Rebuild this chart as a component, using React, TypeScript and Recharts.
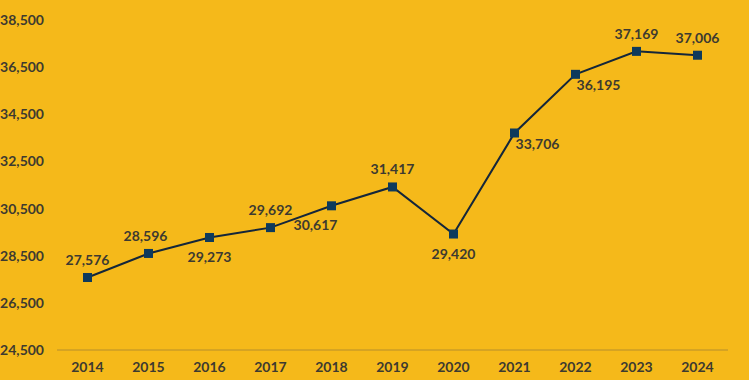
import { LabelList, Line, LineChart, XAxis, YAxis } from "recharts";

// ---------------------------------------------------------------------------
// Data
// ---------------------------------------------------------------------------

const YEARS = ["2014", "2015", "2016", "2017", "2018", "2019", "2020", "2021", "2022", "2023", "2024"];
const VALUES = [27576, 28596, 29273, 29692, 30617, 31417, 29420, 33706, 36195, 37169, 37006];
const Y_TICKS = [24500, 26500, 28500, 30500, 32500, 34500, 36500, 38500];

// where each data label sits relative to its marker
const LABEL_SIDE = ["above", "above", "below", "above", "below", "above", "below", "right", "right", "above", "above"];

// ---------------------------------------------------------------------------
// Styling
// ---------------------------------------------------------------------------

const BG = "#F5B91A";
const TEXT = "#3D3A30";
const LINE = "#14263A";
const MARKER = "#0E3A5C";
const AXIS = "#B58E2C";
const FONT = "Lato, 'Noto Sans', sans-serif";

const data = YEARS.map((year, i) => ({ year, value: VALUES[i] }));

const fmt = (v: number) => v.toLocaleString("en-US");

function SquareDot(props: any) {
  const { cx, cy } = props;
  if (cx == null || cy == null) return null;
  return <rect x={cx - 4.5} y={cy - 4.5} width={9} height={9} fill={MARKER} />;
}

function PointLabel(props: any) {
  const { x, y, value, index } = props;
  const side = LABEL_SIDE[index];
  let dx = 0;
  let dy = -18;
  if (side === "below") {
    dy = 19;
    if (index === 4) dx = -16;
  } else if (side === "right") {
    dx = 23;
    dy = 10;
  }
  if (index === 1) dx = -3;
  return (
    <text
      x={x + dx}
      y={y + dy}
      textAnchor="middle"
      dominantBaseline="central"
      fill={TEXT}
      fontSize={14}
      fontWeight={700}
      fontFamily={FONT}
    >
      {fmt(value)}
    </text>
  );
}

export default function App() {
  return (
    <div style={{ position: "absolute", left: 0, top: 0, width: 749, height: 380, background: BG }}>
      <LineChart
        width={749}
        height={380}
        data={data}
        margin={{ top: 20, right: 21, bottom: 0, left: 0 }}
      >
        <XAxis
          dataKey="year"
          height={30}
          padding={{ left: 30.5, right: 30.5 }}
          tickLine={false}
          tickSize={0}
          tickMargin={12}
          axisLine={{ stroke: AXIS, strokeWidth: 1 }}
          tick={{ fill: TEXT, fontSize: 14, fontWeight: 700, fontFamily: FONT }}
          interval={0}
        />
        <YAxis
          width={57}
          domain={[24500, 38500]}
          ticks={Y_TICKS}
          tickFormatter={fmt}
          axisLine={false}
          tickLine={false}
          tickSize={0}
          tickMargin={13}
          tick={{ fill: TEXT, fontSize: 14, fontWeight: 700, fontFamily: FONT }}
        />
        <Line
          dataKey="value"
          stroke={LINE}
          strokeWidth={2}
          dot={<SquareDot />}
          activeDot={false}
          isAnimationActive={false}
        >
          <LabelList dataKey="value" content={<PointLabel />} />
        </Line>
      </LineChart>
    </div>
  );
}
